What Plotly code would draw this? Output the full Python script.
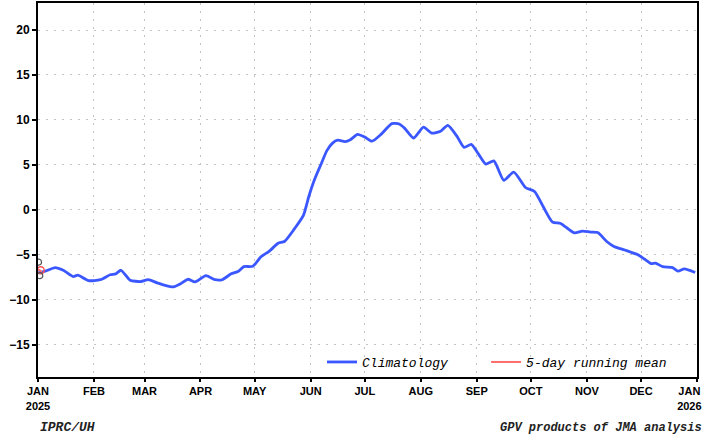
import pandas as pd
import plotly.graph_objects as go

# Climatology (day offset from 2025-01-01, value)
clim_days = [0, 4, 9.5, 14, 19.5, 22, 28, 34.5, 40, 43, 46, 51, 57, 61, 66, 70, 75, 79, 83, 87,
             93, 98, 102, 107, 111, 114, 119, 123.5, 128, 133, 136.5, 142, 147, 150, 153, 157,
             160, 163, 166, 170, 173, 177, 181, 185, 190, 196, 200, 203, 208, 213.5, 218, 223,
             227, 232, 236, 240, 244, 248, 252.5, 258, 263.5, 270, 275, 280, 285, 289.5, 297,
             301.5, 306, 310, 315, 319, 325, 333, 339.5, 342, 346, 351.5, 354.5, 358, 364]
clim_vals = [-7.0, -6.8, -6.4, -6.7, -7.4, -7.25, -7.85, -7.75, -7.2, -7.1, -6.7, -7.8, -7.95,
             -7.75, -8.1, -8.35, -8.55, -8.2, -7.7, -8.0, -7.3, -7.75, -7.75, -7.1, -6.8, -6.3,
             -6.25, -5.2, -4.6, -3.7, -3.5, -2.1, -0.6, 1.5, 3.3, 5.2, 6.6, 7.4, 7.75, 7.6, 7.8,
             8.4, 8.1, 7.65, 8.4, 9.6, 9.55, 9.1, 8.0, 9.2, 8.55, 8.75, 9.4, 8.2, 6.95, 7.3, 6.2,
             5.1, 5.45, 3.3, 4.2, 2.5, 2.05, 0.3, -1.35, -1.5, -2.55, -2.35, -2.45, -2.5, -3.5,
             -4.05, -4.45, -5.05, -5.95, -5.9, -6.3, -6.4, -6.8, -6.55, -6.95]

# 5-day running mean (only the first days available)
rm_days = [0, 1, 2]
rm_vals = [-6.6, -6.7, -6.9]
rm_mark_days = [1.5]
rm_mark_vals = [-6.7]

# Observed daily values (open circles)
obs_days = [0.3, 1]
obs_vals = [-5.8, -7.3]

month_ticks = ["2025-01-01", "2025-02-01", "2025-03-01", "2025-04-01", "2025-05-01", "2025-06-01",
               "2025-07-01", "2025-08-01", "2025-09-01", "2025-10-01", "2025-11-01", "2025-12-01",
               "2026-01-01"]
month_labels = ["JAN<br>2025", "FEB", "MAR", "APR", "MAY", "JUN", "JUL", "AUG", "SEP", "OCT",
                "NOV", "DEC", "JAN\u00a0\u00a0\u00a0\u00a0\u00a0<br>2026\u00a0\u00a0\u00a0\u00a0\u00a0"]
y_ticks = [-15, -10, -5, 0, 5, 10, 15, 20]

start = pd.Timestamp("2025-01-01")
to_dates = lambda days: [start + pd.Timedelta(days=d) for d in days]

fig = go.Figure()
fig.add_trace(go.Scatter(x=to_dates(clim_days), y=clim_vals, mode="lines", name="Climatology",
                         legend="legend",
                         line=dict(color="#3b57ff", width=2.8, shape="spline", smoothing=0.6)))
fig.add_trace(go.Scatter(x=to_dates(rm_days), y=rm_vals, mode="lines", name="5-day running mean",
                         legend="legend2", line=dict(color="#ff6b6b", width=2)))
fig.add_trace(go.Scatter(x=to_dates(rm_mark_days), y=rm_mark_vals, mode="markers", showlegend=False,
                         marker=dict(symbol="circle-open", size=7, color="#ff5050", line=dict(width=1.5))))
fig.add_trace(go.Scatter(x=to_dates(obs_days), y=obs_vals, mode="markers", showlegend=False,
                         marker=dict(symbol="circle-open", size=6, color="#555555", line=dict(width=1.2))))

grid = dict(showgrid=True, gridcolor="#c4c4c4", griddash="2px,6px", gridwidth=1, zeroline=False)
fig.update_xaxes(type="date", range=["2025-01-01", "2026-01-01"], tickvals=month_ticks,
                 ticktext=month_labels, ticklabeloverflow="allow",
                 tickfont=dict(family="Liberation Sans", size=11, color="black", weight="bold"),
                 ticks="outside", ticklen=3, tickwidth=1.5, tickcolor="black", showline=True,
                 mirror=True, linewidth=2, linecolor="black", automargin=False, **grid)
fig.update_yaxes(range=[-18.56, 23], tickvals=y_ticks,
                 tickfont=dict(family="Liberation Sans", size=12, color="black", weight="bold"),
                 ticks="outside", ticklen=4, tickwidth=1.5, tickcolor="black", showline=True,
                 mirror=True, linewidth=2, linecolor="black", automargin=False, **grid)

legfont = dict(family="Liberation Mono", size=13, color="black", style="italic")
fig.update_layout(
    width=705, height=438,
    margin=dict(l=38, r=8, t=3, b=61),
    paper_bgcolor="white", plot_bgcolor="white",
    legend=dict(orientation="h", x=0.431, xanchor="left", y=0.0, yanchor="bottom",
                bgcolor="rgba(0,0,0,0)", font=legfont),
    legend2=dict(orientation="h", x=0.68, xanchor="left", y=0.0, yanchor="bottom",
                 bgcolor="rgba(0,0,0,0)", font=legfont),
    annotations=[
        dict(text="IPRC/UH", xref="paper", yref="paper", x=0.0, y=-0.136, xanchor="left",
             yanchor="middle", showarrow=False,
             font=dict(family="Liberation Mono", size=13, color="#222222", style="italic", weight="bold")),
        dict(text="GPV products of JMA analysis", xref="paper", yref="paper", x=1.011, y=-0.136,
             xanchor="right", yanchor="middle", showarrow=False,
             font=dict(family="Liberation Mono", size=12, color="#222222", style="italic", weight="bold")),
    ],
)

fig.write_html("out.html", config={"displayModeBar": False},
               post_script="document.body.style.margin='0';")
